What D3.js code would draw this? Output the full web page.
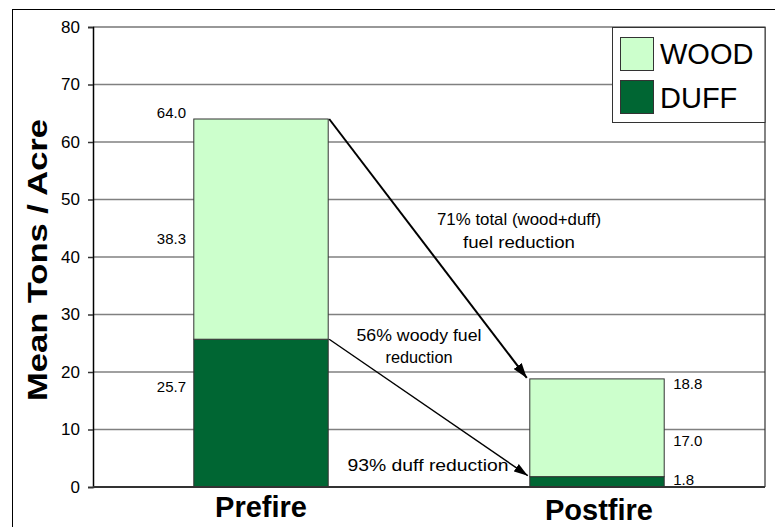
<!DOCTYPE html>
<html>
<head>
<meta charset="utf-8">
<script src="https://cdn.jsdelivr.net/npm/d3@7"></script>
<style>
  html, body { margin: 0; padding: 0; background: #fff; }
  svg { display: block; font-family: "Liberation Sans", Arial, sans-serif; }
</style>
</head>
<body>
<svg id="chart" width="775" height="527"></svg>
<script>
// Fuel loading before and after burning (mean tons per acre)
const categories = ["Prefire", "Postfire"];
const duffValues = [25.7, 1.8];
const woodValues = [38.3, 17.0];
const totalValues = [64.0, 18.8];
const yTickValues = [0, 10, 20, 30, 40, 50, 60, 70, 80];
const legendNames = ["WOOD", "DUFF"];
const axisTitle = "Mean Tons / Acre";
const notes = [
  ["71% total (wood+duff)", "fuel reduction"],
  ["56% woody fuel", "reduction"],
  ["93% duff reduction"]
];

const colors = { wood: "#CCFFCC", duff: "#006633" };

const svg = d3.select("#chart");
const W = 775, H = 527;
const plot = { left: 93, right: 765, top: 27, bottom: 487 };

const x = d3.scaleBand().domain(categories)
  .range([plot.left, plot.right]).paddingInner(0.6).paddingOuter(0.3);
const y = d3.scaleLinear().domain([0, 80]).range([plot.bottom, plot.top]);

// outer chart frame
svg.append("rect").attr("x", 12.5).attr("y", 9.5)
  .attr("width", W).attr("height", H)
  .attr("fill", "#fff").attr("stroke", "#000").attr("stroke-width", 1);

// gridlines
svg.append("g").selectAll("line")
  .data(yTickValues.filter(d => d > 0 && d < 80))
  .join("line")
  .attr("x1", plot.left).attr("x2", plot.right)
  .attr("y1", d => y(d)).attr("y2", d => y(d))
  .attr("stroke", "#808080").attr("stroke-width", 1.5);

// plot border (top + right)
svg.append("path")
  .attr("d", `M${plot.left},${y(80)}H${plot.right}V${plot.bottom}`)
  .attr("fill", "none").attr("stroke", "#333").attr("stroke-width", 1.2);

// stacked bars
const rows = categories.map((c, i) => ({ cat: c, duff: duffValues[i], wood: woodValues[i] }));
const stacked = d3.stack().keys(["duff", "wood"])(rows);
svg.append("g").selectAll("g")
  .data(stacked).join("g")
  .attr("fill", s => colors[s.key])
  .selectAll("rect")
  .data(s => s).join("rect")
  .attr("x", d => x(d.data.cat))
  .attr("width", x.bandwidth())
  .attr("y", d => y(d[1]))
  .attr("height", d => y(d[0]) - y(d[1]))
  .attr("stroke", "#333").attr("stroke-width", 1);

// y axis
const yAxis = d3.axisLeft(y).tickValues(yTickValues).tickSize(5).tickPadding(8)
  .tickFormat(d3.format("d"));
const gy = svg.append("g").attr("transform", `translate(${plot.left},0)`).call(yAxis);
gy.select(".domain").attr("stroke", "#000").attr("stroke-width", 1.5);
gy.selectAll(".tick line").attr("stroke", "#333").attr("stroke-width", 1.5);
gy.selectAll(".tick text").attr("font-size", 17).attr("fill", "#000")
  .attr("font-family", "Liberation Sans, Arial, sans-serif");

// x axis baseline
svg.append("line")
  .attr("x1", plot.left).attr("x2", plot.right)
  .attr("y1", y(0)).attr("y2", y(0))
  .attr("stroke", "#333").attr("stroke-width", 2);

// axis title
svg.append("text")
  .attr("transform", `translate(47,260) rotate(-90)`)
  .attr("text-anchor", "middle")
  .attr("font-size", 28).attr("font-weight", "bold")
  .attr("textLength", 282).attr("lengthAdjust", "spacingAndGlyphs")
  .text(axisTitle);

// category labels
const catBaseline = [517, 520];
svg.append("g").selectAll("text")
  .data(categories).join("text")
  .attr("x", d => x(d) + x.bandwidth() / 2 + (d === "Postfire" ? 2 : 0))
  .attr("y", (d, i) => catBaseline[i])
  .attr("text-anchor", "middle")
  .attr("font-size", 29).attr("font-weight", "bold")
  .text(d => d);

// value labels (left of first bar, right of second bar)
const labelX = i => i === 0 ? x(categories[0]) - 37 : x(categories[1]) + x.bandwidth() + 9;
const labelOffsets = [
  { total: -6, wood: 10, duff: -26 },
  { total: 5, wood: 13, duff: -2 }
];
const valueLabels = [];
categories.forEach((c, i) => {
  const o = labelOffsets[i];
  valueLabels.push({ x: labelX(i), y: y(totalValues[i]) + o.total, v: totalValues[i] });
  valueLabels.push({ x: labelX(i), y: y(duffValues[i] + woodValues[i] / 2) + o.wood, v: woodValues[i] });
  valueLabels.push({ x: labelX(i), y: y(duffValues[i] / 2) + o.duff, v: duffValues[i] });
});
svg.append("g").selectAll("text")
  .data(valueLabels).join("text")
  .attr("x", d => d.x).attr("y", d => d.y)
  .attr("dy", "0.35em")
  .attr("font-size", 15)
  .text(d => d3.format(".1f")(d.v));

// arrows between bars
const defs = svg.append("defs");
function marker(id, w, h) {
  defs.append("marker").attr("id", id)
    .attr("viewBox", `0 0 ${w} ${h}`)
    .attr("refX", w).attr("refY", h / 2)
    .attr("markerWidth", w).attr("markerHeight", h)
    .attr("markerUnits", "userSpaceOnUse")
    .attr("orient", "auto")
    .append("path").attr("d", `M0,0L${w},${h / 2}L0,${h}Z`).attr("fill", "#000");
}
marker("headBig", 15, 10);
marker("headSmall", 14, 9);

const x0r = x(categories[0]) + x.bandwidth();
const x1l = x(categories[1]);
svg.append("line")
  .attr("x1", x0r + 1).attr("y1", y(totalValues[0]))
  .attr("x2", x1l - 3).attr("y2", y(totalValues[1]) - 1)
  .attr("stroke", "#000").attr("stroke-width", 2)
  .attr("marker-end", "url(#headBig)");
svg.append("line")
  .attr("x1", x0r + 1).attr("y1", y(duffValues[0]))
  .attr("x2", x1l - 2).attr("y2", y(duffValues[1]) - 1)
  .attr("stroke", "#000").attr("stroke-width", 1.4)
  .attr("marker-end", "url(#headSmall)");

// annotations
const noteLayout = [
  { cx: 519, y: [219, 242], len: [164, 112] },
  { cx: 419, y: [335, 357], len: [125, 67] },
  { cx: 428, y: [465], len: [161] }
];
notes.forEach((lines, k) => {
  lines.forEach((t, j) => {
    svg.append("text")
      .attr("x", noteLayout[k].cx).attr("y", noteLayout[k].y[j])
      .attr("dy", "0.35em").attr("text-anchor", "middle")
      .attr("font-size", 17)
      .attr("textLength", noteLayout[k].len[j]).attr("lengthAdjust", "spacingAndGlyphs")
      .text(t);
  });
});

// legend
const lg = svg.append("g");
lg.append("rect").attr("x", 612.5).attr("y", 27.5).attr("width", 152.5).attr("height", 95)
  .attr("fill", "#fff").attr("stroke", "#333").attr("stroke-width", 1);
const legendColors = [colors.wood, colors.duff];
legendNames.forEach((n, i) => {
  lg.append("rect").attr("x", 620.5).attr("y", 37.5 + i * 43)
    .attr("width", 33).attr("height", 33)
    .attr("fill", legendColors[i]).attr("stroke", "#333").attr("stroke-width", 1);
  lg.append("text").attr("x", 660).attr("y", 54 + i * 44)
    .attr("dy", "0.35em").attr("font-size", 29)
    .text(n);
});
</script>
</body>
</html>
